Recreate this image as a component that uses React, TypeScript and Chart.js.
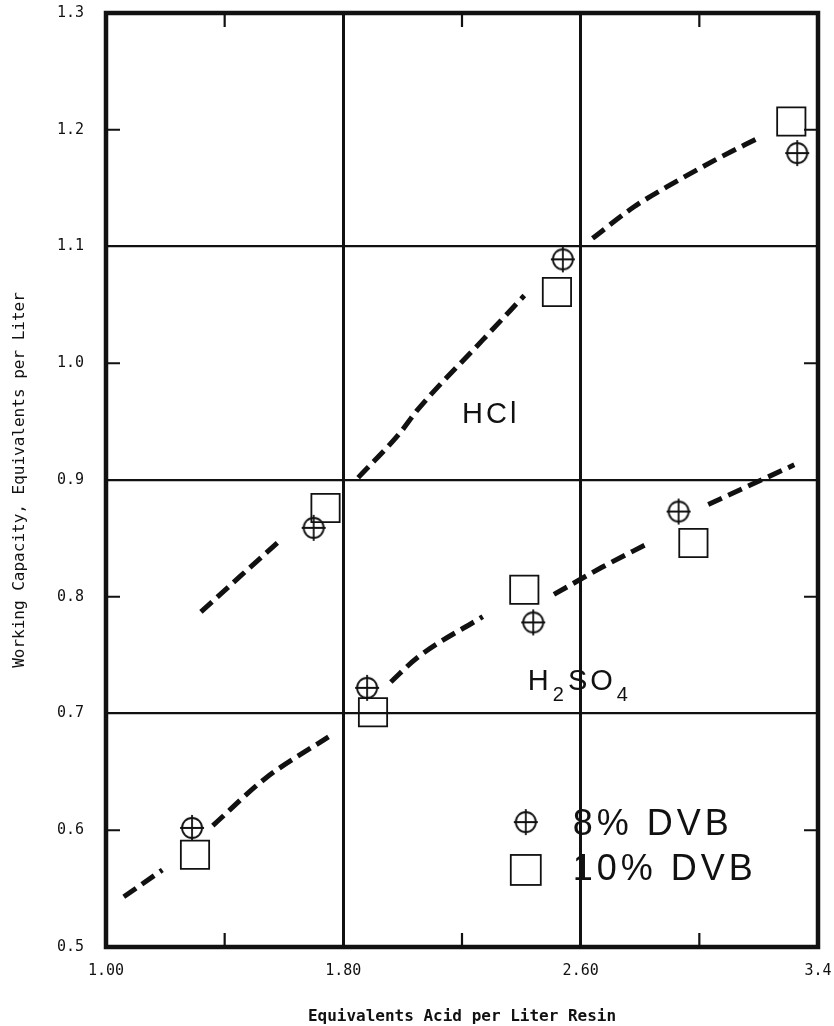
import React, { useEffect, useRef } from 'react';
import { Chart, registerables } from 'chart.js';

Chart.register(...registerables);

// ---- data ----
const hclX8 = [1.70, 2.54, 3.33];
const hclY8 = [0.859, 1.089, 1.180];
const hclX10 = [1.74, 2.52, 3.31];
const hclY10 = [0.876, 1.061, 1.207];
const h2so4X8 = [1.29, 1.88, 2.44, 2.93];
const h2so4Y8 = [0.602, 0.722, 0.778, 0.873];
const h2so4X10 = [1.30, 1.90, 2.41, 2.98];
const h2so4Y10 = [0.579, 0.701, 0.806, 0.846];

const hclCurveX = [1.32, 1.45, 1.59, 1.72, 1.85, 1.99, 2.05, 2.27, 2.41, 2.52, 2.64, 2.78, 2.89, 3.06, 3.20];
const hclCurveY = [0.787, 0.817, 0.849, null, 0.902, 0.940, 0.960, 1.020, 1.058, null, 1.107, 1.134, 1.151, 1.175, 1.193];
const h2so4CurveX = [1.06, 1.19, 1.27, 1.36, 1.54, 1.75, 1.85, 1.96, 2.05, 2.27, 2.39, 2.51, 2.67, 2.83, 2.93, 3.03, 3.32];
const h2so4CurveY = [0.543, 0.566, null, 0.604, 0.645, 0.680, null, 0.727, 0.748, 0.783, null, 0.802, 0.825, 0.846, null, 0.879, 0.913];

const xLabelValues = [1.0, 1.8, 2.6, 3.4];
const xTickLabels = ['1.00', '1.80', '2.60', '3.4'];
const xGridValues = [1.8, 2.6];
const yGridValues = [0.7, 0.9, 1.1];
const xMinorTicks = [1.4, 2.2, 3.0];
const yMinorTicks = [0.6, 0.8, 1.0, 1.2];

const seriesLabels = ['8% DVB', '10% DVB'];
const curveLabels = ['HCl', 'H2SO4'];
const xTitle = 'Equivalents Acid per Liter Resin';
const yTitle = 'Working Capacity, Equivalents per Liter';

const INK = '#111111';
const MONO = '"DejaVu Sans Mono", "Liberation Mono", monospace';
const SANS = '"Liberation Sans", Arial, sans-serif';

const near = (a: number, list: number[]) => list.some((v) => Math.abs(v - a) < 1e-6);

function makeCrossCircle(): HTMLCanvasElement {
  const c = document.createElement('canvas');
  c.width = 30;
  c.height = 30;
  const g = c.getContext('2d')!;
  g.strokeStyle = INK;
  g.lineWidth = 1.8;
  g.beginPath();
  g.arc(15, 15, 10, 0, Math.PI * 2);
  g.stroke();
  g.beginPath();
  g.moveTo(15, 2);
  g.lineTo(15, 28);
  g.moveTo(3, 15);
  g.lineTo(27, 15);
  g.stroke();
  return c;
}

const zeroPad = (s: any) => {
  s.paddingTop = 0;
  s.paddingBottom = 0;
  s.paddingLeft = 0;
  s.paddingRight = 0;
};

export default function App() {
  const ref = useRef<HTMLCanvasElement>(null);

  useEffect(() => {
    if (!ref.current) return;
    const crossImg = makeCrossCircle();

    const overlay = {
      id: 'overlay',
      afterDraw(chart: any) {
        const { ctx, chartArea: a, scales } = chart;
        const xs = scales.x;
        const ys = scales.y;
        ctx.save();
        // frame
        ctx.strokeStyle = INK;
        ctx.lineWidth = 4.5;
        ctx.strokeRect(a.left, a.top, a.right - a.left, a.bottom - a.top);
        // inward minor ticks
        ctx.lineWidth = 2.2;
        ctx.beginPath();
        for (const v of yMinorTicks) {
          const py = ys.getPixelForValue(v);
          ctx.moveTo(a.left, py);
          ctx.lineTo(a.left + 14, py);
          ctx.moveTo(a.right, py);
          ctx.lineTo(a.right - 14, py);
        }
        for (const v of xMinorTicks) {
          const px = xs.getPixelForValue(v);
          ctx.moveTo(px, a.bottom);
          ctx.lineTo(px, a.bottom - 14);
          ctx.moveTo(px, a.top);
          ctx.lineTo(px, a.top + 14);
        }
        ctx.stroke();

        // curve annotations
        ctx.fillStyle = INK;
        ctx.textAlign = 'left';
        ctx.textBaseline = 'alphabetic';
        (ctx as any).letterSpacing = '3px';
        ctx.font = `29px ${SANS}`;
        ctx.fillText(curveLabels[0], xs.getPixelForValue(2.2), ys.getPixelForValue(0.949));

        let hx = xs.getPixelForValue(2.422);
        const hy = ys.getPixelForValue(0.72);
        const parts: [string, boolean][] = [['H', false], ['2', true], ['SO', false], ['4', true]];
        for (const [t, sub] of parts) {
          ctx.font = sub ? `20px ${SANS}` : `29px ${SANS}`;
          ctx.fillText(t, hx, sub ? hy + 11 : hy);
          hx += ctx.measureText(t).width + 1;
        }

        // legend
        const lx = xs.getPixelForValue(2.415);
        const rows = [ys.getPixelForValue(0.607), ys.getPixelForValue(0.566)];
        ctx.drawImage(crossImg, lx - 15, rows[0] - 15);
        ctx.lineWidth = 1.8;
        ctx.strokeRect(lx - 15, rows[1] - 15, 30, 30);
        ctx.font = `36px ${SANS}`;
        (ctx as any).letterSpacing = '4px';
        ctx.textBaseline = 'middle';
        ctx.fillText(seriesLabels[0], lx + 47, rows[0] + 3);
        ctx.fillText(seriesLabels[1], lx + 47, rows[1]);
        ctx.restore();
      },
    };

    const pts = (xa: number[], ya: (number | null)[]) => xa.map((x, i) => ({ x, y: ya[i] }));

    const chart = new Chart(ref.current, {
      type: 'scatter',
      data: {
        datasets: [
          {
            label: seriesLabels[0],
            data: [...pts(hclX8, hclY8), ...pts(h2so4X8, h2so4Y8)],
            pointStyle: crossImg as any,
            pointRadius: 10,
            showLine: false,
          },
          {
            label: seriesLabels[1],
            data: [...pts(hclX10, hclY10), ...pts(h2so4X10, h2so4Y10)],
            pointStyle: 'rect',
            pointRadius: 20,
            pointBorderWidth: 1.8,
            pointBorderColor: INK,
            pointBackgroundColor: 'rgba(0,0,0,0)',
            showLine: false,
          },
          {
            label: curveLabels[0],
            data: pts(hclCurveX, hclCurveY) as any,
            showLine: true,
            spanGaps: false,
            borderColor: INK,
            borderWidth: 5,
            borderDash: [15, 7],
            pointRadius: 0,
            cubicInterpolationMode: 'monotone',
          } as any,
          {
            label: curveLabels[1],
            data: pts(h2so4CurveX, h2so4CurveY) as any,
            showLine: true,
            spanGaps: false,
            borderColor: INK,
            borderWidth: 5,
            borderDash: [15, 7],
            pointRadius: 0,
            cubicInterpolationMode: 'monotone',
          } as any,
        ],
      },
      options: {
        responsive: false,
        animation: false,
        devicePixelRatio: 1,
        layout: { autoPadding: false, padding: { left: 10, top: 13, right: 16, bottom: 0 } },
        plugins: {
          legend: { display: false },
          tooltip: { enabled: false },
        },
        scales: {
          x: {
            type: 'linear',
            min: 1.0,
            max: 3.4,
            afterFit: (s: any) => {
              s.height = 79;
              zeroPad(s);
            },
            border: { display: false },
            grid: {
              drawTicks: false,
              color: (c: any) => (c.tick && near(c.tick.value, xGridValues) ? INK : 'rgba(0,0,0,0)'),
              lineWidth: 3,
            },
            ticks: {
              stepSize: 0.4,
              autoSkip: false,
              maxRotation: 0,
              padding: 15,
              color: INK,
              font: { family: MONO, size: 15 },
              callback: (v: any) => {
                const i = xLabelValues.findIndex((lv) => Math.abs(lv - Number(v)) < 1e-6);
                return i >= 0 ? xTickLabels[i] : '';
              },
            },
            title: {
              display: true,
              text: xTitle,
              color: INK,
              font: { family: MONO, size: 16, weight: 'bold' },
              padding: { top: 0, bottom: 0 },
            },
          },
          y: {
            type: 'linear',
            min: 0.5,
            max: 1.3,
            afterFit: (s: any) => {
              s.width = 96;
              zeroPad(s);
            },
            border: { display: false },
            grid: {
              drawTicks: false,
              color: (c: any) => (c.tick && near(c.tick.value, yGridValues) ? INK : 'rgba(0,0,0,0)'),
              lineWidth: 2.2,
            },
            ticks: {
              stepSize: 0.1,
              padding: 22,
              color: INK,
              font: { family: MONO, size: 15 },
              callback: (v: any) => Number(v).toFixed(1),
            },
            title: {
              display: true,
              text: yTitle,
              color: INK,
              font: { family: MONO, size: 16 },
              padding: { top: 0, bottom: 0 },
            },
          },
        },
      } as any,
      plugins: [overlay],
    });

    return () => chart.destroy();
  }, []);

  return (
    <canvas
      ref={ref}
      width={834}
      height={1026}
      style={{ position: 'absolute', left: 0, top: 0, display: 'block', width: 834, height: 1026 }}
    />
  );
}
